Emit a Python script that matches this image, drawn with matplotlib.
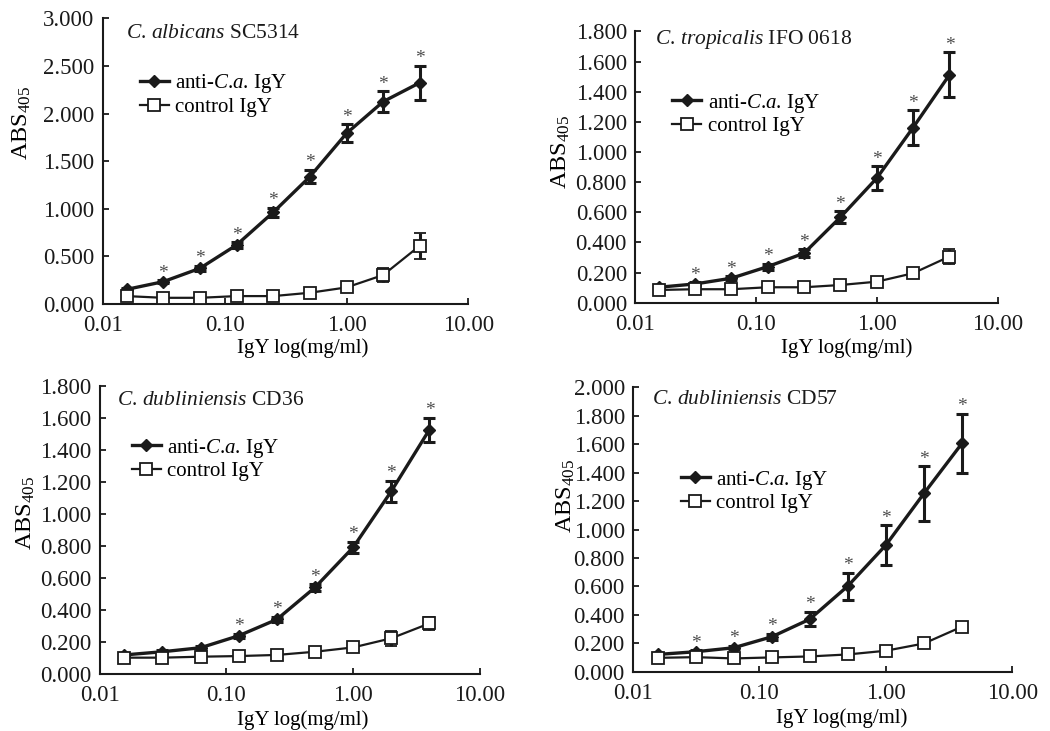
"""
ELISA binding curves of anti-C.a. IgY vs control IgY against four Candida strains.
"""

import matplotlib
matplotlib.use("Agg")
import matplotlib.pyplot as plt
from matplotlib.ticker import FixedLocator, FixedFormatter, NullLocator

plt.rcParams["font.family"] = ["Liberation Serif", "DejaVu Serif"]
plt.rcParams["mathtext.fontset"] = "custom"
plt.rcParams["mathtext.rm"] = "Liberation Serif"
plt.rcParams["mathtext.it"] = "Liberation Serif:italic"

# ── Data ──────────────────────────────────────────────────────────
conc = [0.015625, 0.03125, 0.0625, 0.125, 0.25, 0.5, 1.0, 2.0, 4.0]

titles = [
    r"$\mathit{C}$. $\mathit{albicans}$ SC5314",
    r"$\mathit{C}$. $\mathit{tropicalis}$ IFO 0618",
    r"$\mathit{C}$. $\mathit{dubliniensis}$ CD36",
    r"$\mathit{C}$. $\mathit{dubliniensis}$ CD57",
]
series_labels = [r"anti-$\mathit{C}$.$\mathit{a}$. IgY", "control IgY"]

anti_albicans    = [0.154, 0.235, 0.375, 0.620, 0.963, 1.337, 1.792, 2.125, 2.324]
anti_albicans_sd = [0.010, 0.015, 0.025, 0.030, 0.050, 0.070, 0.095, 0.110, 0.180]
ctrl_albicans    = [0.084, 0.066, 0.066, 0.084, 0.084, 0.119, 0.175, 0.305, 0.613]
ctrl_albicans_sd = [0.010, 0.008, 0.008, 0.008, 0.008, 0.010, 0.015, 0.070, 0.135]

anti_tropicalis    = [0.102, 0.124, 0.162, 0.239, 0.328, 0.567, 0.826, 1.162, 1.512]
anti_tropicalis_sd = [0.008, 0.010, 0.012, 0.020, 0.025, 0.040, 0.080, 0.115, 0.150]
ctrl_tropicalis    = [0.084, 0.089, 0.089, 0.102, 0.102, 0.117, 0.139, 0.195, 0.306]
ctrl_tropicalis_sd = [0.005, 0.005, 0.005, 0.005, 0.005, 0.005, 0.008, 0.010, 0.050]

anti_cd36    = [0.119, 0.139, 0.164, 0.239, 0.341, 0.541, 0.791, 1.142, 1.527]
anti_cd36_sd = [0.008, 0.008, 0.010, 0.012, 0.015, 0.020, 0.035, 0.065, 0.075]
ctrl_cd36    = [0.102, 0.102, 0.108, 0.112, 0.119, 0.139, 0.166, 0.223, 0.316]
ctrl_cd36_sd = [0.005, 0.005, 0.005, 0.005, 0.005, 0.008, 0.020, 0.045, 0.040]

anti_cd57    = [0.122, 0.141, 0.169, 0.246, 0.370, 0.603, 0.891, 1.254, 1.606]
anti_cd57_sd = [0.008, 0.010, 0.012, 0.020, 0.050, 0.095, 0.140, 0.190, 0.210]
ctrl_cd57    = [0.098, 0.103, 0.094, 0.101, 0.108, 0.122, 0.148, 0.199, 0.317]
ctrl_cd57_sd = [0.005, 0.005, 0.005, 0.005, 0.005, 0.005, 0.005, 0.008, 0.010]

# which points carry a significance star
stars_albicans   = [1, 2, 3, 4, 5, 6, 7, 8]
stars_tropicalis = [1, 2, 3, 4, 5, 6, 7, 8]
stars_cd36       = [3, 4, 5, 6, 7, 8]
stars_cd57       = [1, 2, 3, 4, 5, 6, 7, 8]

y_max  = [3.0, 1.8, 1.8, 2.0]
y_step = [0.5, 0.2, 0.2, 0.2]

x_ticks  = [0.01, 0.1, 1.0, 10.0]
x_labels = ["0.01", "0.10", "1.00", "10.00"]

panels = [
    (anti_albicans, anti_albicans_sd, ctrl_albicans, ctrl_albicans_sd, stars_albicans),
    (anti_tropicalis, anti_tropicalis_sd, ctrl_tropicalis, ctrl_tropicalis_sd, stars_tropicalis),
    (anti_cd36, anti_cd36_sd, ctrl_cd36, ctrl_cd36_sd, stars_cd36),
    (anti_cd57, anti_cd57_sd, ctrl_cd57, ctrl_cd57_sd, stars_cd57),
]

# ── Layout (figure / axes fractions) ──────────────────────────────
axes_rect = [
    [0.098, 0.584, 0.348, 0.391],
    [0.605, 0.586, 0.345, 0.371],
    [0.095, 0.078, 0.362, 0.394],
    [0.603, 0.081, 0.361, 0.389],
]
legend_pos = [(0.101, 0.733), (0.102, 0.696), (0.084, 0.747), (0.125, 0.636)]
title_pos  = [(0.063, 0.948), (0.055, 0.969), (0.045, 0.950), (0.050, 0.956)]
ylabel_pos = [(-0.190, 0.633), (-0.174, 0.556), (-0.166, 0.558), (-0.147, 0.620)]
xlabel_pos = [(0.548, -0.119), (0.584, -0.130), (0.534, -0.125), (0.551, -0.129)]

INK = "#1a1a1a"

fig = plt.figure(figsize=(10.5, 7.31), dpi=100)

for i, (anti, anti_sd, ctrl, ctrl_sd, stars) in enumerate(panels):
    ax = fig.add_axes(axes_rect[i])

    # ── Curves ────────────────────────────────────────────────────
    h_anti = ax.errorbar(conc, anti, yerr=anti_sd, color=INK, lw=2.4,
                         marker="D", ms=6.5, mfc=INK, mec=INK,
                         elinewidth=2.2, capsize=4, capthick=2.2, zorder=3)
    h_ctrl = ax.errorbar(conc, ctrl, yerr=ctrl_sd, color=INK, lw=1.6,
                         marker="s", ms=9, mfc="white", mec=INK, mew=1.3,
                         elinewidth=2.2, capsize=4, capthick=2.2, zorder=4)

    for k in stars:
        ax.annotate("*", (conc[k], anti[k] + anti_sd[k]),
                    xytext=(0, -1), textcoords="offset points",
                    ha="center", va="bottom", fontsize=14, color="#4d4d4d")

    # ── Axes ──────────────────────────────────────────────────────
    ax.set_xscale("log")
    ax.set_xlim(0.01, 10)
    ax.set_ylim(0, y_max[i])
    n = int(round(y_max[i] / y_step[i]))
    yt = [k * y_step[i] for k in range(n + 1)]
    ax.set_yticks(yt)
    ax.set_yticklabels([f"{v:.3f}" for v in yt])
    ax.xaxis.set_major_locator(FixedLocator(x_ticks))
    ax.xaxis.set_major_formatter(FixedFormatter(x_labels))
    ax.xaxis.set_minor_locator(NullLocator())

    for side in ("top", "right"):
        ax.spines[side].set_visible(False)
    for side in ("left", "bottom"):
        ax.spines[side].set_linewidth(1.5)
        ax.spines[side].set_color(INK)
    ax.tick_params(direction="in", length=4, width=1.3, labelsize=16.5,
                   colors=INK)
    ax.tick_params(axis="x", pad=8)
    ax.tick_params(axis="y", pad=6)

    ax.set_xlabel("IgY log(mg/ml)", fontsize=15)
    ax.xaxis.set_label_coords(*xlabel_pos[i])
    ax.set_ylabel(r"ABS$_{405}$", fontsize=17.5)
    ax.yaxis.set_label_coords(*ylabel_pos[i])

    ax.text(title_pos[i][0], title_pos[i][1], titles[i], transform=ax.transAxes,
            ha="left", va="center", fontsize=15.5, color=INK)

    ax.legend([h_anti[0], h_ctrl[0]], series_labels, loc="center left",
              bbox_to_anchor=legend_pos[i], frameon=False, fontsize=15,
              handlelength=1.4, handletextpad=0.3, borderpad=0,
              borderaxespad=0, labelspacing=0.1, markerscale=0.9)

fig.savefig("out.png", dpi=100)
